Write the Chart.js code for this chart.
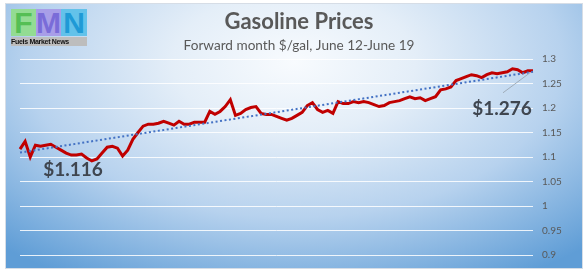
<!DOCTYPE html>
<html>
<head>
<meta charset="utf-8">
<script src="https://cdn.jsdelivr.net/npm/chart.js@4.4.1/dist/chart.umd.min.js"></script>
<style>
    html, body { margin: 0; padding: 0; background: #ffffff; }
    #caja {
        position: absolute; left: 5px; top: 3px; width: 578px; height: 266px;
        box-sizing: border-box; border: 1px solid #d6dde6;
        background: radial-gradient(ellipse 75% 95% at 50% 22%, #f8fbfe 0%, #e4eef8 28%, #b7d2ee 62%, #5f9dd6 100%);
    }
    #grafico { position: absolute; left: 0; top: 0; }
    #logo { position: absolute; left: 5px; top: 5px; width: 76px; height: 37px; }
    .bloque {
        position: absolute; top: 0; width: 25px; height: 27px; overflow: hidden;
        font: bold 30px "Liberation Sans", sans-serif; line-height: 28px; text-align: center;
    }
    #logo_texto {
        position: absolute; left: 0; top: 28px; width: 76px; height: 9px; background: #bdbdbd;
        font: bold 7px "Liberation Sans", sans-serif; line-height: 9px; color: #111; letter-spacing: -0.3px;
        white-space: nowrap; overflow: hidden;
    }
</style>
</head>
<body>
<div id="caja">
    <canvas id="grafico" width="578" height="266"></canvas>
    <div id="logo">
        <div class="bloque" style="left:0; background:#93dc93; color:#55bf55;">F</div>
        <div class="bloque" style="left:25px; background:#a89ee8; color:#7a6cd8;">M</div>
        <div class="bloque" style="left:50px; width:26px; background:#63c2ea; color:#1f9ad6;">N</div>
        <div id="logo_texto">Fuels Market News</div>
    </div>
</div>
<script>
//-----------------DATOS------------------
var titulo = 'Gasoline Prices'
var subtitulo = 'Forward month $/gal, June 12-June 19'

// precio forward $/gal
var precios = [
    1.116, 1.132, 1.100, 1.124, 1.122, 1.124, 1.126, 1.120, 1.114, 1.108,
    1.104, 1.104, 1.106, 1.098, 1.092, 1.096, 1.108, 1.120, 1.122, 1.118,
    1.102, 1.114, 1.136, 1.150, 1.163, 1.167, 1.167, 1.169, 1.173, 1.169,
    1.165, 1.173, 1.167, 1.167, 1.171, 1.171, 1.171, 1.193, 1.187, 1.193,
    1.203, 1.217, 1.185, 1.189, 1.197, 1.201, 1.203, 1.189, 1.187, 1.187,
    1.183, 1.179, 1.175, 1.179, 1.185, 1.191, 1.205, 1.211, 1.197, 1.191,
    1.195, 1.189, 1.213, 1.209, 1.209, 1.213, 1.211, 1.213, 1.211, 1.207,
    1.203, 1.205, 1.211, 1.213, 1.215, 1.219, 1.223, 1.219, 1.221, 1.215,
    1.219, 1.223, 1.237, 1.239, 1.243, 1.256, 1.260, 1.264, 1.268, 1.266,
    1.262, 1.268, 1.272, 1.270, 1.272, 1.274, 1.280, 1.278, 1.272, 1.276,
    1.276
]

// linea de tendencia (solo los extremos)
var tendencia_inicio = 1.109
var tendencia_fin = 1.274

// etiquetas de primer y ultimo precio
var etiqueta_inicio = '$1.116'
var etiqueta_fin = '$1.276'

var ticks_y = [0.9, 0.95, 1, 1.05, 1.1, 1.15, 1.2, 1.25, 1.3]

var categorias = precios.map(function (p, i) { return String(i + 1) })
//-----------------FIN DATOS------------------

var tendencia = precios.map(function () { return null })
tendencia[0] = tendencia_inicio
tendencia[tendencia.length - 1] = tendencia_fin

var fuente = 'Lato, "Open Sans", sans-serif'

//-----------------PLUGIN ETIQUETAS------------------
var etiquetas_precio = {
    id: 'etiquetas_precio',
    afterDatasetsDraw: function (chart) {
        var ctx = chart.ctx
        var x = chart.scales.x
        var y = chart.scales.y
        var ultimo = precios.length - 1

        // linea guia del ultimo precio
        var px = x.getPixelForValue(ultimo)
        var py = y.getPixelForValue(precios[ultimo])
        ctx.save()
        ctx.strokeStyle = 'rgba(150,160,170,0.8)'
        ctx.lineWidth = 1
        ctx.beginPath()
        ctx.moveTo(px - 3, py + 2)
        ctx.lineTo(px - 30, py + 22)
        ctx.stroke()

        ctx.fillStyle = '#3f4650'
        ctx.font = 'bold 19px ' + fuente
        ctx.textBaseline = 'middle'
        ctx.textAlign = 'center'
        ctx.fillText(etiqueta_inicio, x.getPixelForValue(0) + 53, y.getPixelForValue(precios[0]) + 21)
        ctx.fillText(etiqueta_fin, px - 31, py + 38)
        ctx.restore()
    }
}

//-----------------GRAFICO------------------
var ctx = document.getElementById('grafico').getContext('2d')
var myChart = new Chart(ctx, {
    type: 'line',
    data: {
        labels: categorias,
        datasets: [{
            label: 'Tendencia',
            data: tendencia,
            spanGaps: true,
            borderColor: '#4472c4',
            borderWidth: 2,
            borderDash: [2, 2.5],
            pointRadius: 0,
            fill: false
        }, {
            label: 'Gasoline',
            data: precios,
            borderColor: '#c00000',
            borderWidth: 3,
            pointRadius: 0,
            tension: 0,
            fill: false
        }]
    },
    options: {
        responsive: false,
        animation: false,
        layout: {
            padding: { top: 0, left: 14, right: 6, bottom: 13 }
        },
        plugins: {
            legend: { display: false },
            tooltip: { enabled: false },
            title: {
                display: true,
                text: titulo,
                color: '#595959',
                font: { family: fuente, size: 22, weight: 'bold' },
                padding: { top: 4.5, bottom: 0 }
            },
            subtitle: {
                display: true,
                text: subtitulo,
                color: '#595959',
                font: { family: fuente, size: 13.6 },
                padding: { top: 2.9, bottom: 4.9 }
            }
        },
        scales: {
            x: {
                display: false,
                offset: false
            },
            y: {
                position: 'right',
                min: 0.9,
                max: 1.3,
                afterFit: function (scale) { scale.width = 45 },
                afterBuildTicks: function (scale) {
                    scale.ticks = ticks_y.map(function (v) { return { value: v } })
                },
                border: { display: false },
                grid: {
                    color: 'rgba(255,255,255,0.85)',
                    lineWidth: 1,
                    drawTicks: false
                },
                ticks: {
                    padding: 9,
                    color: '#595959',
                    font: { family: fuente, size: 10 },
                    callback: function (v) { return String(Math.round(v * 100) / 100) }
                }
            }
        }
    },
    plugins: [etiquetas_precio]
})
</script>
</body>
</html>
